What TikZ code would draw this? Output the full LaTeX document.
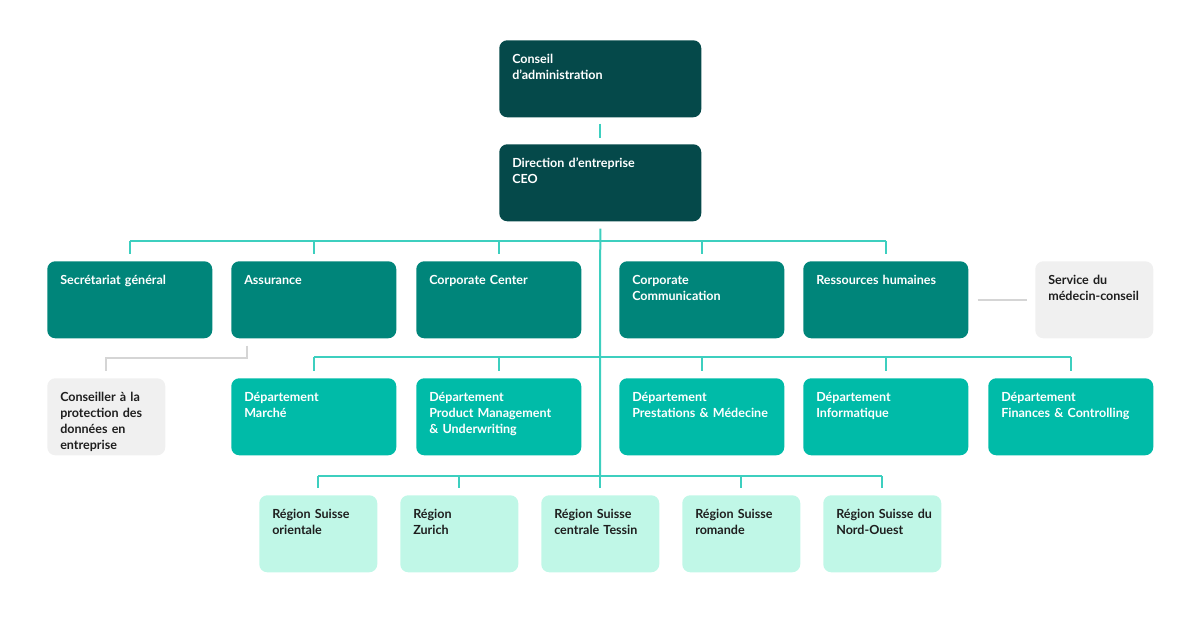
\documentclass[tikz,border=0pt]{standalone}
\usepackage{fontspec}
\setmainfont{Lato}
\usetikzlibrary{positioning}

\definecolor{boardteal}{HTML}{05494A}
\definecolor{unitteal}{HTML}{00857A}
\definecolor{deptteal}{HTML}{00BBA8}
\definecolor{regionmint}{HTML}{C0F7E7}
\definecolor{staffgray}{HTML}{F0F0F0}
\definecolor{linkteal}{HTML}{3DCFBF}
\definecolor{linkgray}{HTML}{D5D5D5}
\definecolor{inkdark}{HTML}{1E1E1E}

\begin{document}
\begin{tikzpicture}[
    x=0.75pt, y=-0.75pt,
    box/.style={rounded corners=6pt, anchor=north west, align=left,
                inner xsep=9.75pt, inner ysep=0pt,
                text height=17.25pt, text depth=40.5pt,
                font=\fontsize{9.4pt}{12pt}\selectfont\bfseries},
    topbox/.style={box, text width=132pt, fill=boardteal, text=white},
    unit/.style={box, text width=104.25pt, fill=unitteal, text=white},
    dept/.style={box, text width=104.25pt, fill=deptteal, text=white},
    region/.style={box, text width=69pt, fill=regionmint, text=inkdark},
    staff/.style={box, text width=69pt, fill=staffgray, text=inkdark},
    link/.style={draw=linkteal, line width=1.5pt},
    sidelink/.style={draw=linkgray, line width=1.5pt}
  ]
  \useasboundingbox (0,0) rectangle (1200,620);

  % Board and management
  \node[topbox] (conseil) at (499,40) {Conseil\\d'administration};
  \node[topbox] (direction) at (499,144) {Direction d'entreprise\\CEO};

  % Units
  \node[unit] (secretariat) at (47,261) {Secrétariat général};
  \node[unit] (assurance) at (231,261) {Assurance};
  \node[unit] (corporate) at (416,261) {Corporate Center};
  \node[unit] (communication) at (619,261) {Corporate\\Communication};
  \node[unit] (rh) at (803,261) {Ressources humaines};
  \node[staff] (medecin) at (1035,261) {Service du\\médecin-conseil};

  % Departments
  \node[staff] (conseiller) at (47,378)
    {Conseiller à la\\protection des\\données en\\entreprise};
  \node[dept] (marche) at (231,378) {Département\\Marché};
  \node[dept] (product) at (416,378)
    {Département\\Product Management\\\& Underwriting};
  \node[dept] (prestations) at (619,378)
    {Département\\\mbox{Prestations \& Médecine}};
  \node[dept] (informatique) at (803,378) {Département\\Informatique};
  \node[dept] (finances) at (988,378) {Département\\Finances \& Controlling};

  % Regions
  \node[region] (r1) at (259,495) {Région Suisse\\orientale};
  \node[region] (r2) at (400,495) {Région\\Zurich};
  \node[region] (r3) at (541,495) {Région Suisse\\centrale Tessin};
  \node[region] (r4) at (682,495) {Région Suisse\\romande};
  \node[region] (r5) at (823,495) {\mbox{Région Suisse du}\\Nord-Ouest};

  % Lines
  \coordinate (bus2) at (600,241);
  \coordinate (bus3) at (600,357.5);
  \coordinate (bus4) at (600,476);

  \draw[link] ([yshift=-4.5pt]conseil.south) -- ([yshift=4.5pt]direction.north);
  \draw[link] ([yshift=-5.25pt]direction.south) -- (bus4);

  \draw[link] (secretariat.north |- bus2) -- (rh.north |- bus2);
  \foreach \n in {secretariat, assurance, corporate, communication, rh}
    \draw[link] (\n.north |- bus2) -- ([yshift=5.25pt]\n.north);

  \draw[link] (marche.north |- bus3) -- (finances.north |- bus3);
  \foreach \n in {marche, product, prestations, informatique, finances}
    \draw[link] (\n.north |- bus3) -- ([yshift=5.25pt]\n.north);

  \draw[link] (r1.north |- bus4) -- (r5.north |- bus4);
  \foreach \n in {r1, r2, r3, r4, r5}
    \draw[link] (\n.north |- bus4) -- ([yshift=5.25pt]\n.north);

  \draw[sidelink] ([xshift=12pt,yshift=-5.25pt]assurance.south west)
    -- ++(0,12) -| ([yshift=5.25pt]conseiller.north);
  \draw[sidelink, shorten <=6.75pt, shorten >=6pt] (rh.east) -- (medecin.west);
\end{tikzpicture}
\end{document}
